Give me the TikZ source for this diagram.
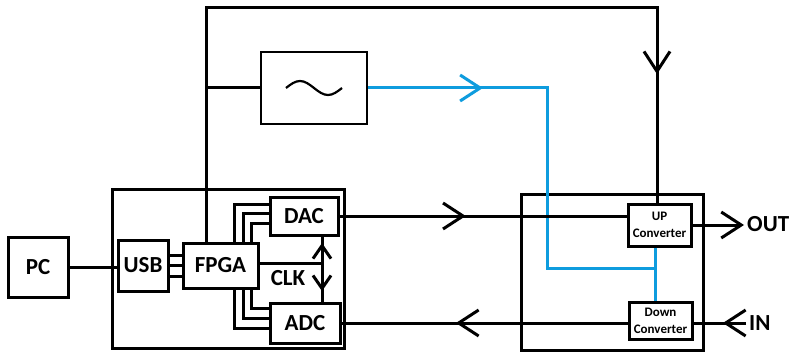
\documentclass[tikz,border=0pt]{standalone}
\usepackage{fontspec}
\setmainfont{Carlito}
\usetikzlibrary{arrows.meta,positioning,decorations.markings}
\definecolor{loblue}{RGB}{14,156,222}

\tikzset{
    vhead/.tip={Straight Barb[length=20pt,width=26pt]},
    clkhead/.tip={Straight Barb[length=13pt,width=18pt]}
}

\begin{document}
\begin{tikzpicture}[
        x=1pt, y=-1pt,
        block/.style={rectangle, draw, line width=3pt, fill=white, inner sep=0pt, font=\fontsize{23}{26}\selectfont\bfseries},
        frame/.style={rectangle, draw, line width=3pt, inner sep=0pt},
        conv/.style={rectangle, draw, line width=3pt, fill=white, minimum width=63pt, inner sep=0pt, align=center, font=\fontsize{13}{17}\selectfont\bfseries},
        label/.style={inner sep=3pt, font=\fontsize{23}{26}\selectfont\bfseries},
        wire/.style={line width=3pt},
        bluewire/.style={line width=3pt, loblue},
        midvee/.style={postaction={decorate, decoration={markings, mark=at position #1 with {\arrow{vhead}}}}},
        clkup/.style={postaction={decorate, decoration={markings, mark=at position #1 with {\arrowreversed{clkhead}}}}},
        clkdown/.style={postaction={decorate, decoration={markings, mark=at position #1 with {\arrow{clkhead}}}}}
    ]
        \useasboundingbox (0,0) rectangle (796,353);

        % Frames
        \node[frame, minimum width=232pt, minimum height=159pt] (host) at (228,268.5) {};
        \node[frame, minimum width=182pt, minimum height=156pt] (rf) at (612,272) {};

        % Blocks
        \node[block, minimum width=60pt, minimum height=60pt] (pc) at (38,267) {PC};
        \node[block, minimum width=50pt, minimum height=51pt] (usb) at (143,265.5) {USB};
        \node[block, minimum width=75pt, minimum height=45pt] (fpga) at (220.5,265.5) {FPGA};
        \node[block, minimum width=68pt, minimum height=38pt] (dac) at (304,216) {DAC};
        \node[block, minimum width=70pt, minimum height=40pt] (adc) at (305,323) {ADC};
        \node[block, minimum width=106pt, minimum height=72pt, line width=2pt] (osc) at (314,88) {};
        \node[conv, minimum height=42pt] (up) at (659.5,225) {UP\\Converter};
        \node[conv, minimum height=37pt] (down) at (660.5,320.5) {Down\\Converter};

        % Labels
        \node[label] (clktxt) at (288,278) {CLK};
        \node[label, anchor=west] (out) at (744,224) {OUT};
        \node[label, anchor=west] (in) at (746,323) {IN};

        % Oscillator symbol
        \draw[line width=2.2pt] (286,88) sin (300,81) cos (314,88) sin (328,95) cos (342,88);

        % PC - USB - FPGA
        \draw[wire] (pc.east) -- (pc.east -| usb.west);
        \foreach \dy in {-10.5,0,10.5}
            \draw[wire] ([yshift=\dy pt]usb.east) -- ([yshift=\dy pt]usb.east -| fpga.west);

        % FPGA - DAC / ADC buses
        \foreach \bx/\dy in {25/12, 16/3, 8/-7}
            \draw[wire] ([xshift=-\bx pt]fpga.north east) |- ([yshift=\dy pt]dac.west);
        \foreach \bx/\dy in {25/-5, 16/5, 8/15}
            \draw[wire] ([xshift=-\bx pt]fpga.south east) |- ([yshift=\dy pt]adc.west);

        % Clock
        \coordinate (clkpt) at (322,263);
        \draw[wire] (fpga.east |- clkpt) -- (clkpt);
        \draw[wire, clkup=0.1, clkdown=0.84] (clkpt |- dac.south) -- (clkpt |- adc.north);

        % Top loop and oscillator feed
        \coordinate (tl) at (206,8);
        \coordinate (tr) at (657,8);
        \draw[wire, midvee=0.854] (fpga.north -| tl) -- (tl) -- (tr) -- (tr |- up.north);
        \draw[wire] (tl |- osc.west) -- (osc.west);

        % LO distribution
        \coordinate (bx) at (547,268);
        \coordinate (bj) at (655,268);
        \draw[bluewire, midvee=0.246] (osc.east) -| (bx) -- (bj);
        \draw[bluewire] (up.south -| bj) -- (down.north -| bj);

        % Signal paths
        \draw[wire, midvee=0.44] (dac.east) -- (dac.east -| up.west);
        \draw[wire, midvee=0.6] (adc.east -| down.west) -- (adc.east);
        \draw[wire, -{vhead}] (up.east) -- (up.east -| out.west);
        \draw[wire, midvee=0.44] (in.west) -- (in.west -| down.east);

    \end{tikzpicture}
\end{document}
